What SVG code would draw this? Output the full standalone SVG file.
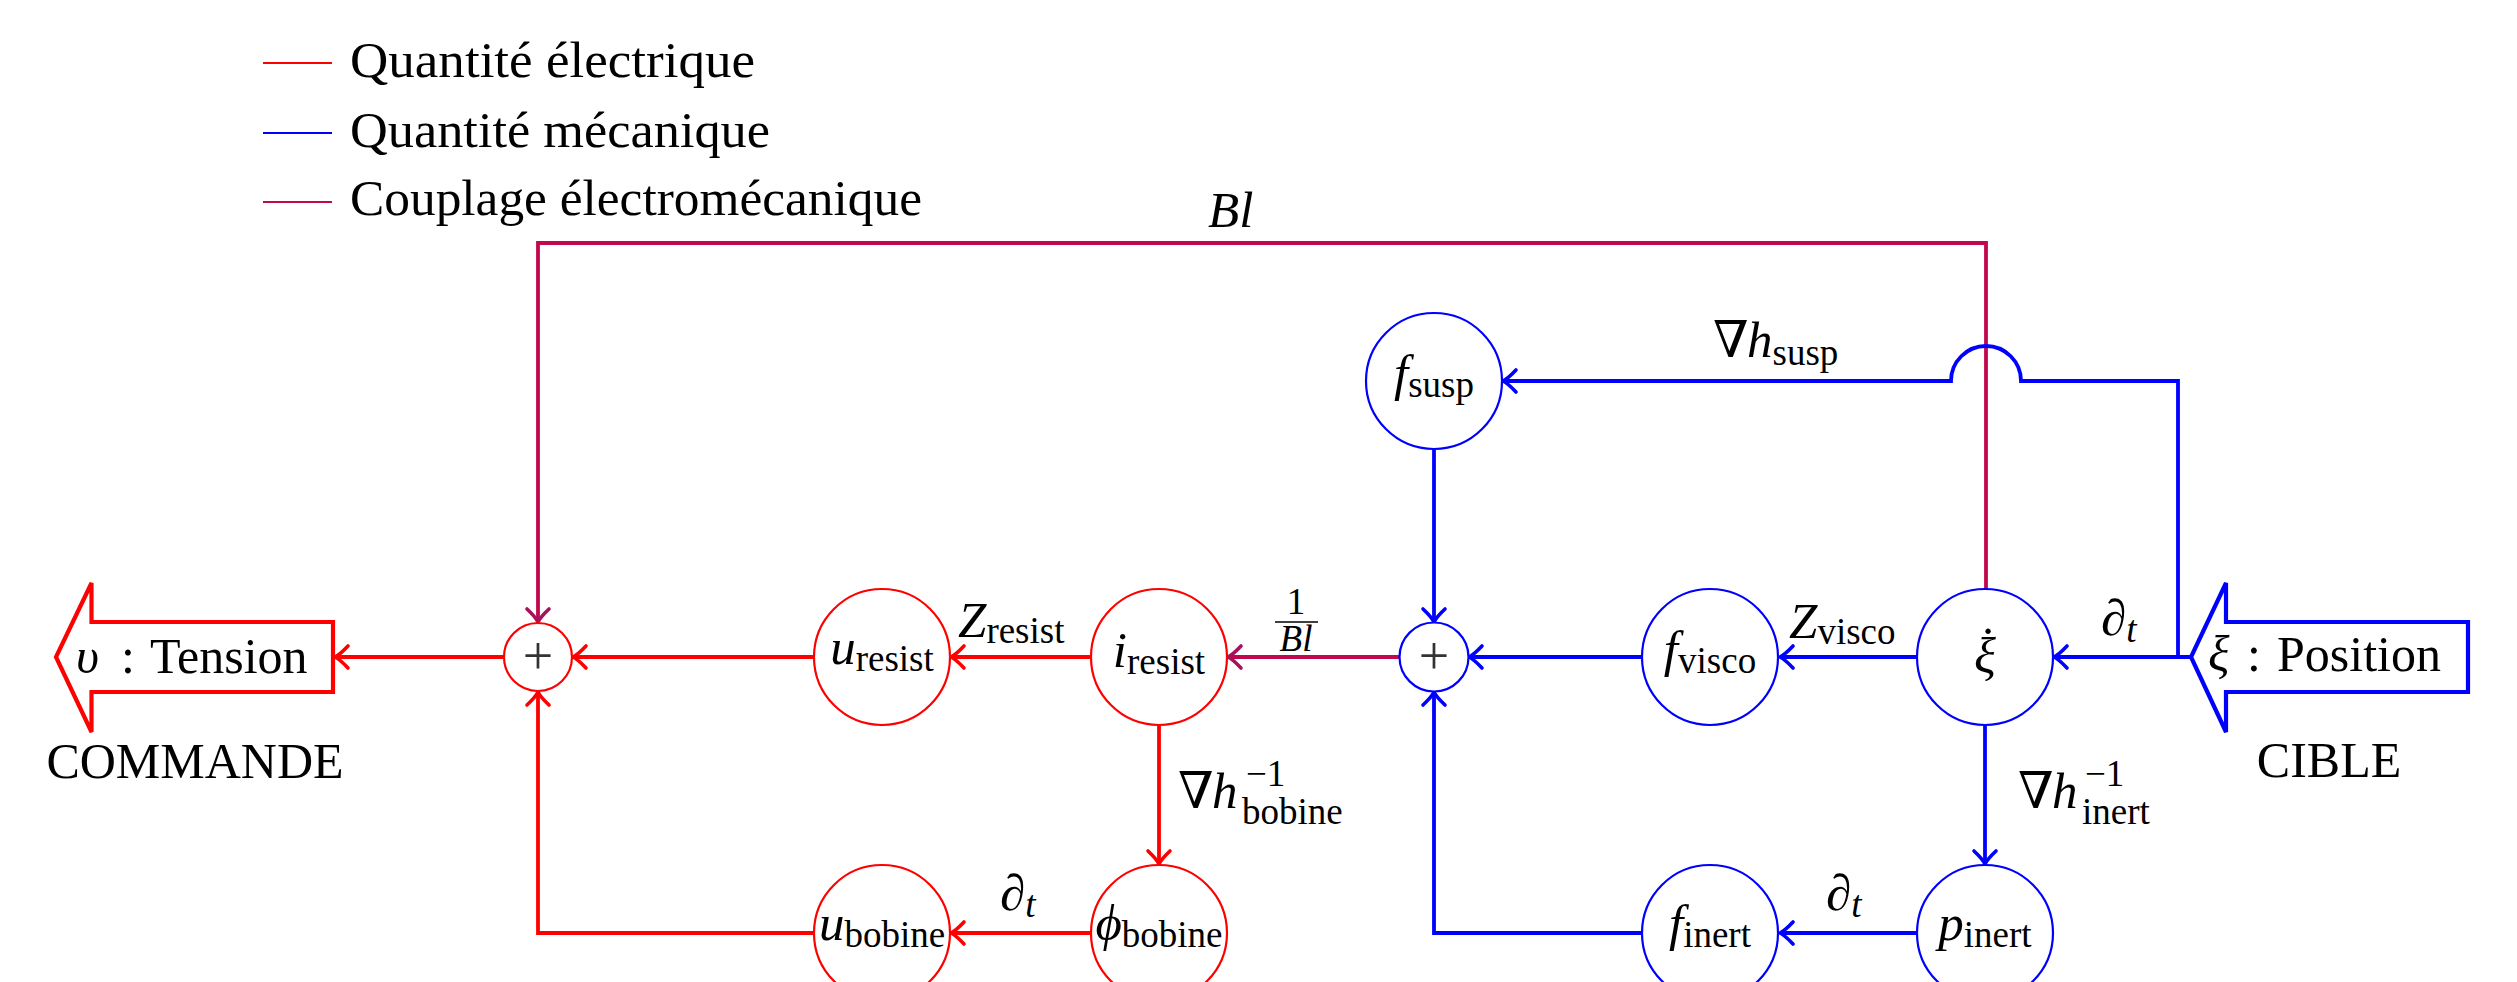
<svg xmlns="http://www.w3.org/2000/svg" width="2517" height="982" viewBox="0 0 2517 982">
<style>
text{font-family:"Liberation Serif","DejaVu Serif",serif;font-size:51px;fill:#000}
.i{font-style:italic}
.s{font-size:37px}
.ns{fill:#fff;stroke-width:2.2}
.r{stroke:#f00}
.b{stroke:#00f}
.p{stroke:#c3074d}
.cn path{fill:none;stroke-width:3.8}
.big{fill:#fff;stroke-width:4.2}
.plus{fill:#333;font-size:54px}
.t{font-size:50px}
</style>
<defs>
<marker id="mr" markerUnits="userSpaceOnUse" orient="auto" refX="0" refY="0" markerWidth="20" markerHeight="26" overflow="visible"><path d="M-13,-11 Q-5,-2.5 0,0 Q-5,2.5 -13,11" fill="none" stroke="#f00" stroke-width="3.6" stroke-linecap="round"/></marker>
<marker id="mb" markerUnits="userSpaceOnUse" orient="auto" refX="0" refY="0" markerWidth="20" markerHeight="26" overflow="visible"><path d="M-13,-11 Q-5,-2.5 0,0 Q-5,2.5 -13,11" fill="none" stroke="#00f" stroke-width="3.6" stroke-linecap="round"/></marker>
<marker id="mp" markerUnits="userSpaceOnUse" orient="auto" refX="0" refY="0" markerWidth="20" markerHeight="26" overflow="visible"><path d="M-13,-11 Q-5,-2.5 0,0 Q-5,2.5 -13,11" fill="none" stroke="#a8125c" stroke-width="3.6" stroke-linecap="round"/></marker>
</defs>
<rect width="2517" height="982" fill="#fff"/>

<g id="legend">
<line x1="263" y1="63" x2="332" y2="63" stroke="#f00" stroke-width="2.2"/>
<text class="t" x="350" y="77" textLength="405" lengthAdjust="spacingAndGlyphs">Quantité électrique</text>
<line x1="263" y1="133" x2="332" y2="133" stroke="#00f" stroke-width="2.2"/>
<text class="t" x="350" y="147" textLength="420" lengthAdjust="spacingAndGlyphs">Quantité mécanique</text>
<line x1="263" y1="202" x2="332" y2="202" stroke="#c3074d" stroke-width="2.2"/>
<text class="t" x="350" y="215" textLength="572" lengthAdjust="spacingAndGlyphs">Couplage électromécanique</text>
</g>

<g id="connectors" class="cn">
<path class="r" d="M504,657 H335" marker-end="url(#mr)"/>
<path class="r" d="M814,657 H573" marker-end="url(#mr)"/>
<path class="r" d="M1091,657 H951" marker-end="url(#mr)"/>
<path class="r" d="M1159,725 V864" marker-end="url(#mr)"/>
<path class="r" d="M1091,933 H951" marker-end="url(#mr)"/>
<path class="r" d="M814,933 H538 V692" marker-end="url(#mr)"/>
<path class="p" d="M1986,589 V243 H538 V622" marker-end="url(#mp)"/>
<path class="p" d="M1399.5,657 H1228" marker-end="url(#mp)"/>
<path class="b" d="M1434,450 V622" marker-end="url(#mb)"/>
<path class="b" d="M1641,657 H1469" marker-end="url(#mb)"/>
<path class="b" d="M1917,657 H1780" marker-end="url(#mb)"/>
<path class="b" d="M1985,725 V864" marker-end="url(#mb)"/>
<path class="b" d="M1917,933 H1780" marker-end="url(#mb)"/>
<path class="b" d="M1641,933 H1434 V692" marker-end="url(#mb)"/>
<path class="b" d="M2191,657 H2054" marker-end="url(#mb)"/>
<path class="b" d="M2178,657 V381 H2021 A35,35 0 0 0 1951,381 H1503" marker-end="url(#mb)"/>
</g>

<g id="edge-labels">
<text x="958" y="637"><tspan class="i">Z</tspan><tspan class="s" dy="6">resist</tspan></text>
<text x="1296" y="614" class="s" text-anchor="middle">1</text>
<line x1="1275" y1="622" x2="1318" y2="622" stroke="#000" stroke-width="1.6"/>
<text x="1296" y="651" class="s i" text-anchor="middle">Bl</text>
<text y="808"><tspan x="1178">∇</tspan><tspan x="1212" class="i">h</tspan><tspan class="s" x="1246" y="786">−1</tspan><tspan class="s" x="1242" y="824">bobine</tspan></text>
<text x="1000" y="910">∂<tspan class="s i" dy="7">t</tspan></text>
<text y="357"><tspan x="1713">∇</tspan><tspan x="1747" class="i">h</tspan><tspan class="s" dy="8">susp</tspan></text>
<text x="1789" y="638"><tspan class="i">Z</tspan><tspan class="s" dy="6">visco</tspan></text>
<text x="2101" y="635">∂<tspan class="s i" dy="7">t</tspan></text>
<text y="808"><tspan x="2018">∇</tspan><tspan x="2052" class="i">h</tspan><tspan class="s" x="2085" y="786">−1</tspan><tspan class="s" x="2082" y="824">inert</tspan></text>
<text x="1826" y="910">∂<tspan class="s i" dy="7">t</tspan></text>
<text x="1208" y="227" class="i">Bl</text>
</g>

<g id="node-tension">
<path class="big r" d="M333,622 H91.5 V583 L56,657 L91.5,732 V692 H333 Z"/>
<text y="673" class="t"><tspan x="76" class="i">υ</tspan><tspan x="121">:</tspan><tspan x="150">Tension</tspan></text>
<text class="t" x="195" y="778" text-anchor="middle">COMMANDE</text>
</g>
<g id="node-position">
<path class="big b" d="M2468,622 H2226 V583 L2191,657 L2226,732 V692 H2468 Z"/>
<text y="671" class="t"><tspan x="2208" class="i">ξ</tspan><tspan x="2247">:</tspan><tspan x="2277">Position</tspan></text>
<text class="t" x="2329" y="777" text-anchor="middle">CIBLE</text>
</g>

<g id="node-sum-e"><circle class="ns r" cx="538" cy="657" r="34"/><text class="plus" x="538" y="674" text-anchor="middle">+</text></g>
<g id="node-sum-m"><circle class="ns b" cx="1434" cy="657" r="34.5"/><text class="plus" x="1434" y="674" text-anchor="middle">+</text></g>

<g id="node-u-resist"><circle class="ns r" cx="882" cy="657" r="68"/><text x="882" y="664" text-anchor="middle"><tspan class="i">u</tspan><tspan class="s" dy="7">resist</tspan></text></g>
<g id="node-i-resist"><circle class="ns r" cx="1159" cy="657" r="68"/><text x="1159" y="667" text-anchor="middle"><tspan class="i">i</tspan><tspan class="s" dy="7">resist</tspan></text></g>
<g id="node-u-bobine"><circle class="ns r" cx="882" cy="933" r="68"/><text x="882" y="940" text-anchor="middle"><tspan class="i">u</tspan><tspan class="s" dy="7">bobine</tspan></text></g>
<g id="node-phi-bobine"><circle class="ns r" cx="1159" cy="933" r="68"/><text x="1159" y="940" text-anchor="middle"><tspan class="i">ϕ</tspan><tspan class="s" dy="7">bobine</tspan></text></g>

<g id="node-f-susp"><circle class="ns b" cx="1434" cy="381" r="68"/><text x="1434" y="390" text-anchor="middle"><tspan class="i">f</tspan><tspan class="s" dy="7">susp</tspan></text></g>
<g id="node-f-visco"><circle class="ns b" cx="1710" cy="657" r="68"/><text x="1710" y="666" text-anchor="middle"><tspan class="i">f</tspan><tspan class="s" dy="7">visco</tspan></text></g>
<g id="node-xi-dot"><circle class="ns b" cx="1985" cy="657" r="68"/><text x="1985" y="673" text-anchor="middle" class="i">ξ</text><text x="1988" y="662" text-anchor="middle">˙</text></g>
<g id="node-f-inert"><circle class="ns b" cx="1710" cy="933" r="68"/><text x="1710" y="940" text-anchor="middle"><tspan class="i">f</tspan><tspan class="s" dy="7">inert</tspan></text></g>
<g id="node-p-inert"><circle class="ns b" cx="1985" cy="933" r="68"/><text x="1985" y="940" text-anchor="middle"><tspan class="i">p</tspan><tspan class="s" dy="7">inert</tspan></text></g>
</svg>
